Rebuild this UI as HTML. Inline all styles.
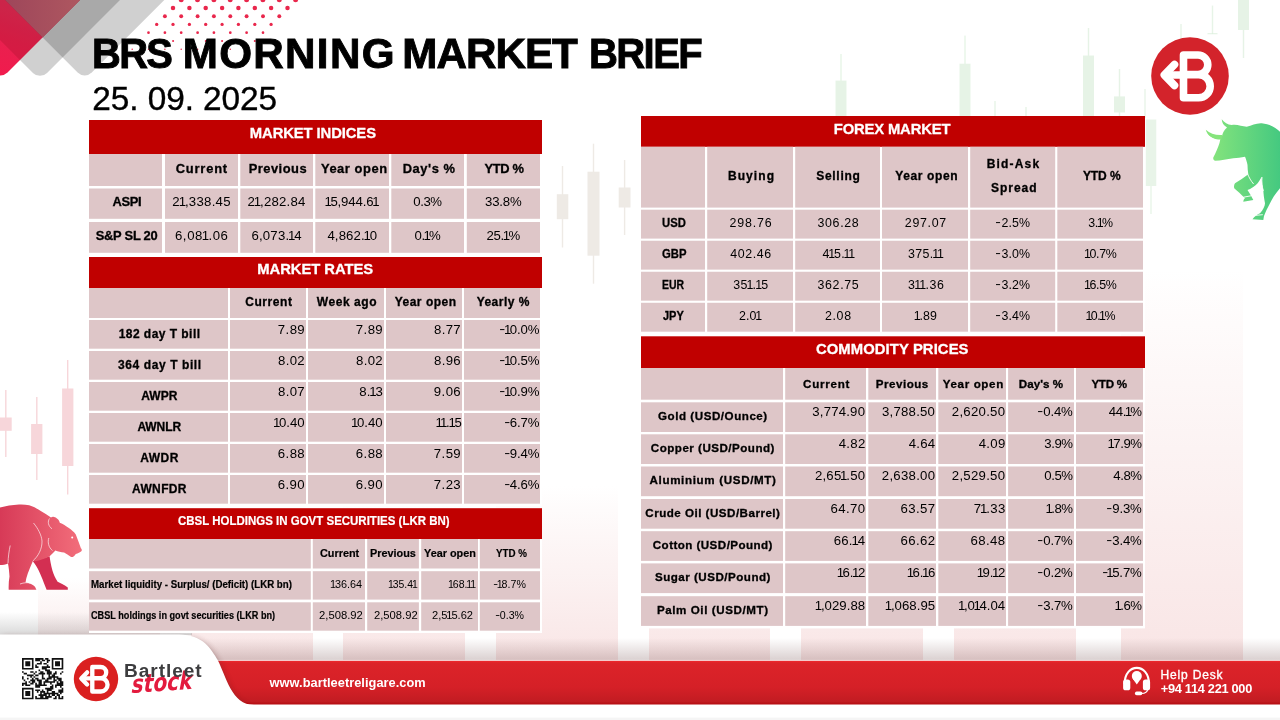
<!DOCTYPE html>
<html lang="en"><head><meta charset="utf-8"><title>BRS Morning Market Brief</title>
<style>
html,body{margin:0;padding:0;background:#fff}
body{width:1280px;height:720px;position:relative;overflow:hidden;font-family:"Liberation Sans","DejaVu Sans",sans-serif}
svg.layer{position:absolute;left:0;top:0;width:1280px;height:720px}
.o{margin:0 -0.1em}
.h{display:inline-block;transform:translateY(-.07em) scaleX(1.35);margin:0 .06em}
.t{position:absolute;white-space:nowrap;line-height:1;margin:0;padding:0;transform-origin:0 50%}
.f0{font-size:14.8px;font-weight:700;color:#fff;-webkit-text-stroke:0.3px #fff}
.f1{font-size:12.9px;font-weight:700;color:#000;-webkit-text-stroke:0.3px #000}
.f2{font-size:13.2px;font-weight:400;color:#000}
.f3{font-size:12px;font-weight:700;color:#000;-webkit-text-stroke:0.3px #000}
.f4{font-size:13.4px;font-weight:700;color:#fff;-webkit-text-stroke:0.2px #fff}
.f5{font-size:11.6px;font-weight:700;color:#000;-webkit-text-stroke:0.2px #000}
.f6{font-size:11.3px;font-weight:700;color:#000;-webkit-text-stroke:0.2px #000}
.f7{font-size:11.6px;font-weight:400;color:#000}
.f8{font-size:12.4px;font-weight:400;color:#000}
.f9{font-size:11.6px;font-weight:700;color:#000;-webkit-text-stroke:0.3px #000}
.f10{font-size:42.2px;font-weight:700;color:#000;-webkit-text-stroke:0.9px #000}
.f11{font-size:33.4px;font-weight:400;color:#000;-webkit-text-stroke:0.35px #000}
.f12{font-size:12.8px;font-weight:700;color:#fff}
.f13{font-size:12.0px;font-weight:400;color:#fff;-webkit-text-stroke:0.35px #fff}
.f14{font-size:17.5px;font-weight:700;color:#3d3d3f}
</style></head><body>
<svg class="layer" viewBox="0 0 1280 720" width="1280" height="720">
<defs>
<linearGradient id="gBar" x1="0" y1="0" x2="0" y2="1"><stop offset="0" stop-color="#F4D5D5" stop-opacity="0"/><stop offset="0.55" stop-color="#F6DADA" stop-opacity="0.38"/><stop offset="1" stop-color="#F6DADA" stop-opacity="0.7"/></linearGradient>
<linearGradient id="gRedD" gradientUnits="userSpaceOnUse" x1="0" y1="80" x2="30" y2="0"><stop offset="0" stop-color="#F21A4D"/><stop offset="0.5" stop-color="#E8214F"/><stop offset="1" stop-color="#DC3058"/></linearGradient>
<linearGradient id="gRedC" gradientUnits="userSpaceOnUse" x1="5" y1="0" x2="80" y2="0"><stop offset="0" stop-color="#9E465A"/><stop offset="1" stop-color="#AE5760"/></linearGradient>
<linearGradient id="gBull" x1="0" y1="0" x2="1" y2="0"><stop offset="0" stop-color="#8AE67C"/><stop offset="1" stop-color="#45C980"/></linearGradient>
<linearGradient id="gBear" x1="0" y1="0" x2="1" y2="0"><stop offset="0" stop-color="#D73A57"/><stop offset="1" stop-color="#F26E7B"/></linearGradient>
<linearGradient id="gBand" x1="0" y1="0" x2="0" y2="1"><stop offset="0" stop-color="#F0292D"/><stop offset="0.05" stop-color="#DC2329"/><stop offset="0.6" stop-color="#D52027"/><stop offset="0.93" stop-color="#C21C22"/><stop offset="1" stop-color="#B30C10"/></linearGradient>
<linearGradient id="gShadow" x1="0" y1="0" x2="0" y2="1"><stop offset="0" stop-color="#8a6a6a" stop-opacity="0"/><stop offset="1" stop-color="#8a6a6a" stop-opacity="0.32"/></linearGradient>
<linearGradient id="gShadowL" x1="0" y1="0" x2="0" y2="1"><stop offset="0" stop-color="#777" stop-opacity="0"/><stop offset="1" stop-color="#777" stop-opacity="0.28"/></linearGradient>
<filter id="blur3" x="-20%" y="-20%" width="140%" height="140%"><feGaussianBlur stdDeviation="3"/></filter>
<clipPath id="clipFoot"><rect x="-5" y="600" width="1290" height="102"/></clipPath>
<clipPath id="clipTL"><rect x="0" y="0" width="200" height="100"/></clipPath>
</defs>
<rect x="38" y="578" width="122" height="82" fill="url(#gBar)"/>
<rect x="191" y="520" width="122" height="140" fill="url(#gBar)"/>
<rect x="343" y="500" width="122" height="160" fill="url(#gBar)"/>
<rect x="496" y="486" width="122" height="174" fill="url(#gBar)"/>
<rect x="649" y="480" width="121" height="180" fill="url(#gBar)"/>
<rect x="801" y="460" width="122" height="200" fill="url(#gBar)"/>
<rect x="954" y="430" width="122" height="230" fill="url(#gBar)"/>
<rect x="1121" y="270" width="122" height="390" fill="url(#gBar)"/>
<g fill="#D3EBD3" opacity="0.55"><rect x="840.3" y="54" width="1.4" height="96"/><rect x="835.5" y="80.6" width="11" height="69.4"/></g>
<g fill="#D3EBD3" opacity="0.55"><rect x="964.3" y="35.6" width="1.4" height="114.4"/><rect x="959.5" y="63.7" width="11" height="86.3"/></g>
<g fill="#D3EBD3" opacity="0.55"><rect x="1087.8" y="28" width="1.4" height="122"/><rect x="1083.0" y="55.5" width="11" height="94.5"/></g>
<g fill="#D3EBD3" opacity="0.55"><rect x="1118.8" y="69" width="1.4" height="49"/><rect x="1114.0" y="96.4" width="11" height="16.099999999999994"/></g>
<g fill="#D3EBD3" opacity="0.55"><rect x="994.3" y="101" width="1.4" height="17"/><rect x="995.0" y="0" width="0" height="0"/></g>
<g fill="#D3EBD3" opacity="0.55"><rect x="1025.3" y="107" width="1.4" height="11"/><rect x="1026.0" y="0" width="0" height="0"/></g>
<g fill="#D3EBD3" opacity="0.55"><rect x="1242.8" y="0" width="1.4" height="58"/><rect x="1238.0" y="0" width="11" height="30"/></g>
<g fill="#D3EBD3" opacity="0.55"><rect x="1211.8" y="5.6" width="1.4" height="28.1"/><rect x="1212.5" y="0" width="0" height="0"/></g>
<rect x="1207.5" y="33" width="10" height="1.3" fill="#D3EBD3" opacity="0.55"/>
<g fill="#D3EBD3" opacity="0.55"><rect x="1180.3" y="24" width="1.4" height="16"/><rect x="1181.0" y="0" width="0" height="0"/></g>
<g fill="#D3EBD3" opacity="0.5"><rect x="1150.3" y="186" width="1.4" height="28"/><rect x="1145.8" y="119.5" width="10.5" height="66.5"/></g>
<g fill="#D3EBD3" opacity="0.5"><rect x="1144.3" y="89" width="1.4" height="29"/><rect x="1145.0" y="0" width="0" height="0"/></g>
<g fill="#EEEAE5" opacity="1"><rect x="561.8" y="166" width="1.4" height="81.5"/><rect x="556.8" y="194.2" width="11.5" height="25.0"/></g>
<g fill="#EEEAE5" opacity="1"><rect x="592.8" y="143.7" width="1.4" height="140.0"/><rect x="587.5" y="171.7" width="12" height="84.0"/></g>
<g fill="#EEEAE5" opacity="1"><rect x="623.9" y="160" width="1.4" height="75"/><rect x="618.7" y="187.5" width="11.8" height="20.0"/></g>
<g fill="#F7D6DA" opacity="1"><rect x="5.1" y="390" width="1.4" height="67"/><rect x="-0.1" y="417.5" width="11.8" height="13.300000000000011"/></g>
<g fill="#F7D6DA" opacity="1"><rect x="36.1" y="397" width="1.4" height="83"/><rect x="31.1" y="424" width="11.3" height="30"/></g>
<g fill="#F7D6DA" opacity="1"><rect x="67.0" y="360" width="1.4" height="134.5"/><rect x="62.1" y="388.5" width="11.3" height="77.5"/></g>
<clipPath id="clipRed"><path d="M-199.6,-120.4 L-6.67,72.53 A10,10 0 0 0 7.47,72.53 L200.4,-120.4 Z"/></clipPath>
<g clip-path="url(#clipTL)">
<path d="M-160,-120 L32.93,72.93 A10,10 0 0 0 47.07,72.93 L240,-120 Z" fill="#000" fill-opacity="0.185"/>
<path d="M-199.6,-120.4 L-6.67,72.53 A10,10 0 0 0 7.47,72.53 L200.4,-120.4 Z" fill="url(#gRedD)"/>
<g clip-path="url(#clipRed)"><path d="M-160,-120 L32.93,72.93 A10,10 0 0 0 47.07,72.93 L240,-120 Z" fill="#500" fill-opacity="0.14"/></g>
<path d="M-115.3,-120.4 L77.63,72.53 A10,10 0 0 0 91.77,72.53 L284.7,-120.4 Z" fill="#000" fill-opacity="0.185"/>
<g clip-path="url(#clipRed)"><path d="M-115.3,-120.4 L77.63,72.53 A10,10 0 0 0 91.77,72.53 L284.7,-120.4 Z" fill="url(#gRedC)"/></g>
</g>
<g fill="#E9274C"><circle cx="181.2" cy="-0.3" r="2.55"/><circle cx="197.5" cy="-0.3" r="2.55"/><circle cx="213.9" cy="-0.3" r="2.55"/><circle cx="230.2" cy="-0.3" r="2.55"/><circle cx="246.6" cy="-0.3" r="2.55"/><circle cx="262.9" cy="-0.3" r="2.55"/><circle cx="279.3" cy="-0.3" r="2.55"/><circle cx="295.6" cy="-0.3" r="2.55"/><circle cx="173.0" cy="8.0" r="2.25"/><circle cx="189.4" cy="8.0" r="2.25"/><circle cx="205.7" cy="8.0" r="2.25"/><circle cx="222.1" cy="8.0" r="2.25"/><circle cx="238.4" cy="8.0" r="2.25"/><circle cx="254.8" cy="8.0" r="2.25"/><circle cx="271.1" cy="8.0" r="2.25"/><circle cx="287.5" cy="8.0" r="2.25"/><circle cx="164.9" cy="16.2" r="1.95"/><circle cx="181.2" cy="16.2" r="1.95"/><circle cx="197.6" cy="16.2" r="1.95"/><circle cx="213.9" cy="16.2" r="1.95"/><circle cx="230.3" cy="16.2" r="1.95"/><circle cx="246.6" cy="16.2" r="1.95"/><circle cx="263.0" cy="16.2" r="1.95"/><circle cx="279.3" cy="16.2" r="1.95"/><circle cx="156.7" cy="24.4" r="1.65"/><circle cx="173.0" cy="24.4" r="1.65"/><circle cx="189.4" cy="24.4" r="1.65"/><circle cx="205.7" cy="24.4" r="1.65"/><circle cx="222.1" cy="24.4" r="1.65"/><circle cx="238.4" cy="24.4" r="1.65"/><circle cx="254.8" cy="24.4" r="1.65"/><circle cx="271.1" cy="24.4" r="1.65"/><circle cx="148.5" cy="32.7" r="1.35"/><circle cx="164.9" cy="32.7" r="1.35"/><circle cx="181.2" cy="32.7" r="1.35"/><circle cx="197.6" cy="32.7" r="1.35"/><circle cx="213.9" cy="32.7" r="1.35"/><circle cx="230.3" cy="32.7" r="1.35"/><circle cx="246.6" cy="32.7" r="1.35"/><circle cx="263.0" cy="32.7" r="1.35"/><circle cx="140.3" cy="41.0" r="1.05"/><circle cx="156.7" cy="41.0" r="1.05"/><circle cx="173.1" cy="41.0" r="1.05"/><circle cx="189.4" cy="41.0" r="1.05"/><circle cx="205.8" cy="41.0" r="1.05"/><circle cx="222.1" cy="41.0" r="1.05"/><circle cx="238.4" cy="41.0" r="1.05"/><circle cx="254.8" cy="41.0" r="1.05"/><circle cx="132.2" cy="49.2" r="0.75"/><circle cx="148.5" cy="49.2" r="0.75"/><circle cx="164.9" cy="49.2" r="0.75"/><circle cx="181.2" cy="49.2" r="0.75"/><circle cx="197.6" cy="49.2" r="0.75"/><circle cx="213.9" cy="49.2" r="0.75"/><circle cx="230.3" cy="49.2" r="0.75"/><circle cx="246.6" cy="49.2" r="0.75"/></g>
<circle cx="1190" cy="76" r="38.8" fill="#D3232B"/>
<g fill="none" stroke="#fff" stroke-width="7.60" stroke-linejoin="round" stroke-linecap="round"><path d="M1183.5,97.8 V55.0 H1198.0 A9.8,9.8 0 0 1 1198.0,74.6 H1186.0 M1198.0,74.6 H1198.6 A11.6,11.6 0 0 1 1198.6,97.8 H1183.5"/><path d="M1166.0,75.0 H1183.5"/><path d="M1174.5,64.5 L1164.3,75.0 L1174.5,85.5"/></g>
<path fill="url(#gBull)" d="M1205.8,129.7 C1208,135 1212,137.5 1218,137.8 L1222,136.5 C1222.5,133 1224,130 1227,127.5 C1223.5,125.5 1222,122.5 1221.7,119.2 C1224.5,122.5 1227.5,124.8 1231.7,125 C1237,124 1242,126.5 1246.7,126.7 C1252,125.5 1256,123 1261.7,123.3 C1269,124 1275,127 1280,131.7 L1280,188.3 C1275,194 1272,199 1270,203.3 C1267.5,208 1265.5,212 1264,216 L1263.3,220 L1252.5,219.2 C1254.5,216.5 1257,214.5 1260,213.3 C1263,210 1265,206 1265,203.3 C1264,198 1263.5,194 1263.3,190 C1262,185 1261.7,181 1261.7,176.7 C1259,182 1256.5,185 1253.3,187 C1251,188.5 1249,189.5 1247.5,190 C1249.5,193 1251.5,196.5 1253.3,200 L1243.3,201.7 C1243.5,200 1244,199 1245,198.3 C1241,194.5 1237.5,191 1234.2,188.3 C1233.8,186.5 1234,184.8 1235,183.3 C1239.5,180.5 1244,177.5 1248.3,174.2 C1247.8,171 1247.5,168 1247.5,165 C1247,162 1246,159 1245,156.7 C1241,157.5 1237,158 1233.3,158.3 C1227,159.5 1221,160.5 1215,160.8 C1213.5,160 1213,158.8 1213.3,157.5 C1216,152.5 1218,147.5 1219.5,143 C1220,141 1220.3,139.5 1220.5,138.3 C1213.5,139.5 1208,136 1205.8,129.7 Z"/>
<path fill="#86E47C" d="M1205.8,129.7 C1207.5,135.5 1212.5,139.6 1221.3,139.6 L1222.6,135 C1216,135.6 1210,133.6 1205.8,129.7 Z"/>
<g fill="none" stroke="#fff" stroke-width="0.9"><path d="M1262,177 C1261.5,182 1262.3,187 1263.3,191"/><path d="M1247.3,173.2 C1249,177.5 1251,181 1253.6,184"/><path d="M1243.5,197.2 L1251,195.8"/><path d="M1255.8,215.3 L1262.8,214.7"/></g>
<path fill="#D32F52" d="M32.8,561.3 C37,566 41,575 43.7,582.5 L46.6,589.8 L67.8,589.8 C67.8,588.5 67.8,588 67.8,587.6 C64,584.5 60,583 57.6,581.7 C55,578 53.5,574 52.5,570.8 C51,565 50,560 49.6,556.2 Z"/>
<path fill="url(#gBear)" d="M0,507.4 C6,506 12,505 19,504.5 C22.5,504.3 26,504.6 29.2,505.2 C33.5,506.5 37.5,508.7 40.8,511 C44.5,513.3 48,515.5 51,517.6 C52,516.6 53,516.5 54,516.9 C55.5,517.2 56.8,518 57.6,519 C58.8,520 59.5,521.3 59.8,522.7 C63,524 66,525.8 68.5,527.8 C71.5,529.8 74,532 75.8,534.4 C77.5,539 79.5,544 80.9,548.2 C81.8,549 82,550 81.6,551.1 C80,552.5 78,553.5 75.8,554 C75,555.3 74,556.3 72.9,557 C71.8,557.2 70.8,556.9 70,556.2 C68,555 66,553.8 64.1,552.6 C61,552.2 58,551.5 55.4,550.4 C53.5,552.5 51.5,554.5 49.6,556.2 C45,558.5 40,560.3 35,561.3 L32.8,561.3 C31,565.5 29.2,569.5 27.7,573.7 C26.6,576.8 25.9,579.8 25.5,582.5 C29.5,583 33,584.5 35,586.8 L36.4,589.8 L8.7,589.8 C8.5,585 8.8,580.5 9.5,576.6 C9.3,572 8.7,567.5 8,563.5 C5.5,564.5 2.8,565 0,565 Z"/>
<g fill="none" stroke="#fff" stroke-width="0.7" opacity="0.9"><path d="M33.5,523 C38,528.5 41.5,535 42,541 C42.3,549 38,556.5 32.8,561"/><path d="M49.5,518.5 C47.5,521.5 48,526 52,528.8"/><path d="M48.8,538 C47.5,542 48.5,547.5 52.5,550.5"/><path d="M10.2,545.5 C9,551 8.2,557 8,563.3"/><path d="M20,584 C24,582.5 28,582.4 30.5,583.2"/></g>
<circle cx="72.2" cy="537.5" r="1" fill="#fff"/>
<rect x="0" y="612" width="192" height="23" fill="url(#gShadowL)"/>
<rect x="180" y="638" width="1100" height="22.5" fill="url(#gShadow)"/>
<rect x="200" y="659.8" width="1080" height="1.2" fill="#fff" opacity="0.45"/>
<rect x="212" y="660.8" width="1068" height="43.7" fill="url(#gBand)"/>
<path d="M0,636 H178 C203,636 210,650 216,661 C224,677 230,705 250,706 H0 Z" fill="#5a2020" opacity="0.45" filter="url(#blur3)" transform="translate(2.5,1.5)" clip-path="url(#clipFoot)"/>
<path d="M0,634.6 H179 C203,634.6 211,649 217.8,660.3 C226,676 231.5,705 254,705 H0 Z" fill="#fff"/>
<rect x="0" y="703.8" width="240" height="16.2" fill="#fff"/>
<rect x="0" y="717.6" width="1280" height="2.4" fill="#000" opacity="0.04"/>
<path d="M22.00,658.00h11.56v1.65h-11.56zM35.22,658.00h8.26v1.65h-8.26zM45.13,658.00h3.30v1.65h-3.30zM51.74,658.00h11.56v1.65h-11.56zM22.00,659.65h1.65v1.65h-1.65zM31.91,659.65h1.65v1.65h-1.65zM35.22,659.65h4.96v1.65h-4.96zM41.82,659.65h3.30v1.65h-3.30zM46.78,659.65h3.30v1.65h-3.30zM51.74,659.65h1.65v1.65h-1.65zM61.65,659.65h1.65v1.65h-1.65zM22.00,661.30h1.65v1.65h-1.65zM25.30,661.30h4.96v1.65h-4.96zM31.91,661.30h1.65v1.65h-1.65zM40.17,661.30h1.65v1.65h-1.65zM46.78,661.30h1.65v1.65h-1.65zM51.74,661.30h1.65v1.65h-1.65zM55.04,661.30h4.96v1.65h-4.96zM61.65,661.30h1.65v1.65h-1.65zM22.00,662.96h1.65v1.65h-1.65zM25.30,662.96h4.96v1.65h-4.96zM31.91,662.96h1.65v1.65h-1.65zM36.87,662.96h4.96v1.65h-4.96zM43.48,662.96h3.30v1.65h-3.30zM51.74,662.96h1.65v1.65h-1.65zM55.04,662.96h4.96v1.65h-4.96zM61.65,662.96h1.65v1.65h-1.65zM22.00,664.61h1.65v1.65h-1.65zM25.30,664.61h4.96v1.65h-4.96zM31.91,664.61h1.65v1.65h-1.65zM35.22,664.61h1.65v1.65h-1.65zM46.78,664.61h1.65v1.65h-1.65zM51.74,664.61h1.65v1.65h-1.65zM55.04,664.61h4.96v1.65h-4.96zM61.65,664.61h1.65v1.65h-1.65zM22.00,666.26h1.65v1.65h-1.65zM31.91,666.26h1.65v1.65h-1.65zM35.22,666.26h3.30v1.65h-3.30zM41.82,666.26h8.26v1.65h-8.26zM51.74,666.26h1.65v1.65h-1.65zM61.65,666.26h1.65v1.65h-1.65zM22.00,667.91h11.56v1.65h-11.56zM41.82,667.91h4.96v1.65h-4.96zM51.74,667.91h11.56v1.65h-11.56zM38.52,669.56h1.65v1.65h-1.65zM45.13,669.56h4.96v1.65h-4.96zM22.00,671.22h1.65v1.65h-1.65zM30.26,671.22h3.30v1.65h-3.30zM35.22,671.22h1.65v1.65h-1.65zM40.17,671.22h3.30v1.65h-3.30zM46.78,671.22h4.96v1.65h-4.96zM55.04,671.22h1.65v1.65h-1.65zM61.65,671.22h1.65v1.65h-1.65zM23.65,672.87h3.30v1.65h-3.30zM33.56,672.87h1.65v1.65h-1.65zM38.52,672.87h6.61v1.65h-6.61zM46.78,672.87h4.96v1.65h-4.96zM53.39,672.87h3.30v1.65h-3.30zM60.00,672.87h1.65v1.65h-1.65zM26.96,674.52h6.61v1.65h-6.61zM35.22,674.52h3.30v1.65h-3.30zM41.82,674.52h1.65v1.65h-1.65zM48.43,674.52h1.65v1.65h-1.65zM51.74,674.52h3.30v1.65h-3.30zM22.00,676.17h1.65v1.65h-1.65zM30.26,676.17h1.65v1.65h-1.65zM33.56,676.17h1.65v1.65h-1.65zM41.82,676.17h1.65v1.65h-1.65zM48.43,676.17h9.91v1.65h-9.91zM22.00,677.82h1.65v1.65h-1.65zM26.96,677.82h1.65v1.65h-1.65zM31.91,677.82h1.65v1.65h-1.65zM35.22,677.82h3.30v1.65h-3.30zM41.82,677.82h3.30v1.65h-3.30zM46.78,677.82h4.96v1.65h-4.96zM53.39,677.82h1.65v1.65h-1.65zM56.69,677.82h4.96v1.65h-4.96zM23.65,679.48h1.65v1.65h-1.65zM30.26,679.48h4.96v1.65h-4.96zM36.87,679.48h4.96v1.65h-4.96zM45.13,679.48h3.30v1.65h-3.30zM53.39,679.48h3.30v1.65h-3.30zM58.34,679.48h3.30v1.65h-3.30zM25.30,681.13h1.65v1.65h-1.65zM28.61,681.13h1.65v1.65h-1.65zM31.91,681.13h3.30v1.65h-3.30zM38.52,681.13h3.30v1.65h-3.30zM43.48,681.13h11.56v1.65h-11.56zM56.69,681.13h1.65v1.65h-1.65zM60.00,681.13h3.30v1.65h-3.30zM22.00,682.78h4.96v1.65h-4.96zM30.26,682.78h3.30v1.65h-3.30zM35.22,682.78h1.65v1.65h-1.65zM38.52,682.78h3.30v1.65h-3.30zM43.48,682.78h1.65v1.65h-1.65zM50.08,682.78h1.65v1.65h-1.65zM56.69,682.78h6.61v1.65h-6.61zM22.00,684.43h1.65v1.65h-1.65zM25.30,684.43h4.96v1.65h-4.96zM35.22,684.43h11.56v1.65h-11.56zM51.74,684.43h1.65v1.65h-1.65zM55.04,684.43h8.26v1.65h-8.26zM35.22,686.08h4.96v1.65h-4.96zM50.08,686.08h3.30v1.65h-3.30zM55.04,686.08h1.65v1.65h-1.65zM60.00,686.08h1.65v1.65h-1.65zM22.00,687.74h11.56v1.65h-11.56zM45.13,687.74h8.26v1.65h-8.26zM61.65,687.74h1.65v1.65h-1.65zM22.00,689.39h1.65v1.65h-1.65zM31.91,689.39h1.65v1.65h-1.65zM35.22,689.39h4.96v1.65h-4.96zM41.82,689.39h1.65v1.65h-1.65zM46.78,689.39h4.96v1.65h-4.96zM58.34,689.39h4.96v1.65h-4.96zM22.00,691.04h1.65v1.65h-1.65zM25.30,691.04h4.96v1.65h-4.96zM31.91,691.04h1.65v1.65h-1.65zM36.87,691.04h1.65v1.65h-1.65zM40.17,691.04h4.96v1.65h-4.96zM46.78,691.04h1.65v1.65h-1.65zM51.74,691.04h3.30v1.65h-3.30zM58.34,691.04h4.96v1.65h-4.96zM22.00,692.69h1.65v1.65h-1.65zM25.30,692.69h4.96v1.65h-4.96zM31.91,692.69h1.65v1.65h-1.65zM40.17,692.69h1.65v1.65h-1.65zM43.48,692.69h14.87v1.65h-14.87zM60.00,692.69h1.65v1.65h-1.65zM22.00,694.34h1.65v1.65h-1.65zM25.30,694.34h4.96v1.65h-4.96zM31.91,694.34h1.65v1.65h-1.65zM38.52,694.34h8.26v1.65h-8.26zM48.43,694.34h1.65v1.65h-1.65zM51.74,694.34h3.30v1.65h-3.30zM56.69,694.34h3.30v1.65h-3.30zM22.00,696.00h1.65v1.65h-1.65zM31.91,696.00h1.65v1.65h-1.65zM35.22,696.00h1.65v1.65h-1.65zM40.17,696.00h3.30v1.65h-3.30zM45.13,696.00h6.61v1.65h-6.61zM55.04,696.00h1.65v1.65h-1.65zM58.34,696.00h1.65v1.65h-1.65zM61.65,696.00h1.65v1.65h-1.65zM22.00,697.65h11.56v1.65h-11.56zM35.22,697.65h13.22v1.65h-13.22zM53.39,697.65h3.30v1.65h-3.30zM58.34,697.65h4.96v1.65h-4.96z" fill="#111"/>
<circle cx="96" cy="679" r="22.2" fill="#DA2020"/>
<g fill="none" stroke="#fff" stroke-width="4.35" stroke-linejoin="round" stroke-linecap="round"><path d="M92.3,691.5 V667.0 H100.6 A5.6,5.6 0 0 1 100.6,678.2 H93.7 M100.6,678.2 H100.9 A6.6,6.6 0 0 1 100.9,691.5 H92.3"/><path d="M82.3,678.4 H92.3"/><path d="M87.1,672.4 L81.3,678.4 L87.1,684.4"/></g>
<g transform="translate(131.5,693) rotate(-4) skewX(-6)"><text x="0" y="0" font-family="'DejaVu Sans','Liberation Sans',sans-serif" font-weight="700" font-style="italic" font-size="25" fill="#E31B3E" textLength="61" lengthAdjust="spacingAndGlyphs">stock</text></g>
<g fill="#fff" stroke="none"><path d="M1124.6,684 C1124.6,662.5 1149,662.5 1149,684" fill="none" stroke="#fff" stroke-width="2.1"/><rect x="1123.1" y="679.4" width="7.2" height="10.9" rx="2.6"/><rect x="1142.9" y="679.4" width="7.2" height="10.9" rx="2.6"/><circle cx="1136.8" cy="676" r="5"/><path d="M1132.6,678.6 L1141,678.6 L1136.8,684.4 Z"/><path d="M1147.6,689.5 C1147.2,692.3 1145,693.4 1141.5,693.4" fill="none" stroke="#fff" stroke-width="1.3"/><rect x="1134.9" y="691.6" width="7.4" height="3.6" rx="1.8"/></g>
<g id="tables">
<rect x="89.00" y="120.00" width="453.00" height="135.00" fill="#fff"/>
<rect x="89.00" y="120.00" width="453.00" height="34.00" fill="#C00000"/>
<rect x="89.00" y="154.00" width="73.00" height="32.00" fill="#DEC6C8"/>
<rect x="165.00" y="154.00" width="73.00" height="32.00" fill="#DEC6C8"/>
<rect x="240.30" y="154.00" width="72.70" height="32.00" fill="#DEC6C8"/>
<rect x="315.30" y="154.00" width="73.70" height="32.00" fill="#DEC6C8"/>
<rect x="391.30" y="154.00" width="72.70" height="32.00" fill="#DEC6C8"/>
<rect x="466.80" y="154.00" width="73.20" height="32.00" fill="#DEC6C8"/>
<rect x="89.00" y="188.50" width="73.00" height="30.30" fill="#DEC6C8"/>
<rect x="165.00" y="188.50" width="73.00" height="30.30" fill="#DEC6C8"/>
<rect x="240.30" y="188.50" width="72.70" height="30.30" fill="#DEC6C8"/>
<rect x="315.30" y="188.50" width="73.70" height="30.30" fill="#DEC6C8"/>
<rect x="391.30" y="188.50" width="72.70" height="30.30" fill="#DEC6C8"/>
<rect x="466.80" y="188.50" width="73.20" height="30.30" fill="#DEC6C8"/>
<rect x="89.00" y="222.00" width="73.00" height="30.80" fill="#DEC6C8"/>
<rect x="165.00" y="222.00" width="73.00" height="30.80" fill="#DEC6C8"/>
<rect x="240.30" y="222.00" width="72.70" height="30.80" fill="#DEC6C8"/>
<rect x="315.30" y="222.00" width="73.70" height="30.80" fill="#DEC6C8"/>
<rect x="391.30" y="222.00" width="72.70" height="30.80" fill="#DEC6C8"/>
<rect x="466.80" y="222.00" width="73.20" height="30.80" fill="#DEC6C8"/>
<rect x="89.00" y="257.00" width="453.00" height="249.00" fill="#fff"/>
<rect x="89.00" y="257.00" width="453.00" height="31.00" fill="#C00000"/>
<rect x="89.00" y="288.00" width="139.00" height="30.00" fill="#DEC6C8"/>
<rect x="230.00" y="288.00" width="76.00" height="30.00" fill="#DEC6C8"/>
<rect x="308.00" y="288.00" width="76.00" height="30.00" fill="#DEC6C8"/>
<rect x="386.00" y="288.00" width="76.00" height="30.00" fill="#DEC6C8"/>
<rect x="464.00" y="288.00" width="76.00" height="30.00" fill="#DEC6C8"/>
<rect x="89.00" y="320.00" width="139.00" height="28.70" fill="#DEC6C8"/>
<rect x="230.00" y="320.00" width="76.00" height="28.70" fill="#DEC6C8"/>
<rect x="308.00" y="320.00" width="76.00" height="28.70" fill="#DEC6C8"/>
<rect x="386.00" y="320.00" width="76.00" height="28.70" fill="#DEC6C8"/>
<rect x="464.00" y="320.00" width="76.00" height="28.70" fill="#DEC6C8"/>
<rect x="89.00" y="351.00" width="139.00" height="28.70" fill="#DEC6C8"/>
<rect x="230.00" y="351.00" width="76.00" height="28.70" fill="#DEC6C8"/>
<rect x="308.00" y="351.00" width="76.00" height="28.70" fill="#DEC6C8"/>
<rect x="386.00" y="351.00" width="76.00" height="28.70" fill="#DEC6C8"/>
<rect x="464.00" y="351.00" width="76.00" height="28.70" fill="#DEC6C8"/>
<rect x="89.00" y="382.00" width="139.00" height="28.70" fill="#DEC6C8"/>
<rect x="230.00" y="382.00" width="76.00" height="28.70" fill="#DEC6C8"/>
<rect x="308.00" y="382.00" width="76.00" height="28.70" fill="#DEC6C8"/>
<rect x="386.00" y="382.00" width="76.00" height="28.70" fill="#DEC6C8"/>
<rect x="464.00" y="382.00" width="76.00" height="28.70" fill="#DEC6C8"/>
<rect x="89.00" y="413.00" width="139.00" height="28.70" fill="#DEC6C8"/>
<rect x="230.00" y="413.00" width="76.00" height="28.70" fill="#DEC6C8"/>
<rect x="308.00" y="413.00" width="76.00" height="28.70" fill="#DEC6C8"/>
<rect x="386.00" y="413.00" width="76.00" height="28.70" fill="#DEC6C8"/>
<rect x="464.00" y="413.00" width="76.00" height="28.70" fill="#DEC6C8"/>
<rect x="89.00" y="444.00" width="139.00" height="28.70" fill="#DEC6C8"/>
<rect x="230.00" y="444.00" width="76.00" height="28.70" fill="#DEC6C8"/>
<rect x="308.00" y="444.00" width="76.00" height="28.70" fill="#DEC6C8"/>
<rect x="386.00" y="444.00" width="76.00" height="28.70" fill="#DEC6C8"/>
<rect x="464.00" y="444.00" width="76.00" height="28.70" fill="#DEC6C8"/>
<rect x="89.00" y="475.00" width="139.00" height="28.70" fill="#DEC6C8"/>
<rect x="230.00" y="475.00" width="76.00" height="28.70" fill="#DEC6C8"/>
<rect x="308.00" y="475.00" width="76.00" height="28.70" fill="#DEC6C8"/>
<rect x="386.00" y="475.00" width="76.00" height="28.70" fill="#DEC6C8"/>
<rect x="464.00" y="475.00" width="76.00" height="28.70" fill="#DEC6C8"/>
<rect x="89.00" y="508.20" width="453.00" height="124.80" fill="#fff"/>
<rect x="89.00" y="508.20" width="453.00" height="30.80" fill="#C00000"/>
<rect x="89.00" y="539.00" width="221.80" height="29.50" fill="#DEC6C8"/>
<rect x="312.80" y="539.00" width="52.20" height="29.50" fill="#DEC6C8"/>
<rect x="367.20" y="539.00" width="51.70" height="29.50" fill="#DEC6C8"/>
<rect x="421.20" y="539.00" width="56.80" height="29.50" fill="#DEC6C8"/>
<rect x="479.80" y="539.00" width="60.20" height="29.50" fill="#DEC6C8"/>
<rect x="89.00" y="571.20" width="221.80" height="28.40" fill="#DEC6C8"/>
<rect x="312.80" y="571.20" width="52.20" height="28.40" fill="#DEC6C8"/>
<rect x="367.20" y="571.20" width="51.70" height="28.40" fill="#DEC6C8"/>
<rect x="421.20" y="571.20" width="56.80" height="28.40" fill="#DEC6C8"/>
<rect x="479.80" y="571.20" width="60.20" height="28.40" fill="#DEC6C8"/>
<rect x="89.00" y="602.30" width="221.80" height="28.40" fill="#DEC6C8"/>
<rect x="312.80" y="602.30" width="52.20" height="28.40" fill="#DEC6C8"/>
<rect x="367.20" y="602.30" width="51.70" height="28.40" fill="#DEC6C8"/>
<rect x="421.20" y="602.30" width="56.80" height="28.40" fill="#DEC6C8"/>
<rect x="479.80" y="602.30" width="60.20" height="28.40" fill="#DEC6C8"/>
<rect x="641.00" y="116.00" width="504.00" height="218.20" fill="#fff"/>
<rect x="641.00" y="116.00" width="504.00" height="30.80" fill="#C00000"/>
<rect x="641.00" y="146.80" width="64.00" height="60.80" fill="#DEC6C8"/>
<rect x="707.20" y="146.80" width="85.80" height="60.80" fill="#DEC6C8"/>
<rect x="795.20" y="146.80" width="84.80" height="60.80" fill="#DEC6C8"/>
<rect x="882.00" y="146.80" width="86.00" height="60.80" fill="#DEC6C8"/>
<rect x="970.20" y="146.80" width="85.00" height="60.80" fill="#DEC6C8"/>
<rect x="1057.30" y="146.80" width="85.70" height="60.80" fill="#DEC6C8"/>
<rect x="641.00" y="209.70" width="64.00" height="28.90" fill="#DEC6C8"/>
<rect x="707.20" y="209.70" width="85.80" height="28.90" fill="#DEC6C8"/>
<rect x="795.20" y="209.70" width="84.80" height="28.90" fill="#DEC6C8"/>
<rect x="882.00" y="209.70" width="86.00" height="28.90" fill="#DEC6C8"/>
<rect x="970.20" y="209.70" width="85.00" height="28.90" fill="#DEC6C8"/>
<rect x="1057.30" y="209.70" width="85.70" height="28.90" fill="#DEC6C8"/>
<rect x="641.00" y="240.73" width="64.00" height="28.90" fill="#DEC6C8"/>
<rect x="707.20" y="240.73" width="85.80" height="28.90" fill="#DEC6C8"/>
<rect x="795.20" y="240.73" width="84.80" height="28.90" fill="#DEC6C8"/>
<rect x="882.00" y="240.73" width="86.00" height="28.90" fill="#DEC6C8"/>
<rect x="970.20" y="240.73" width="85.00" height="28.90" fill="#DEC6C8"/>
<rect x="1057.30" y="240.73" width="85.70" height="28.90" fill="#DEC6C8"/>
<rect x="641.00" y="271.76" width="64.00" height="28.90" fill="#DEC6C8"/>
<rect x="707.20" y="271.76" width="85.80" height="28.90" fill="#DEC6C8"/>
<rect x="795.20" y="271.76" width="84.80" height="28.90" fill="#DEC6C8"/>
<rect x="882.00" y="271.76" width="86.00" height="28.90" fill="#DEC6C8"/>
<rect x="970.20" y="271.76" width="85.00" height="28.90" fill="#DEC6C8"/>
<rect x="1057.30" y="271.76" width="85.70" height="28.90" fill="#DEC6C8"/>
<rect x="641.00" y="302.79" width="64.00" height="28.90" fill="#DEC6C8"/>
<rect x="707.20" y="302.79" width="85.80" height="28.90" fill="#DEC6C8"/>
<rect x="795.20" y="302.79" width="84.80" height="28.90" fill="#DEC6C8"/>
<rect x="882.00" y="302.79" width="86.00" height="28.90" fill="#DEC6C8"/>
<rect x="970.20" y="302.79" width="85.00" height="28.90" fill="#DEC6C8"/>
<rect x="1057.30" y="302.79" width="85.70" height="28.90" fill="#DEC6C8"/>
<rect x="641.00" y="336.30" width="504.00" height="292.10" fill="#fff"/>
<rect x="641.00" y="336.30" width="504.00" height="31.70" fill="#C00000"/>
<rect x="641.00" y="368.00" width="142.00" height="31.70" fill="#DEC6C8"/>
<rect x="785.20" y="368.00" width="80.80" height="31.70" fill="#DEC6C8"/>
<rect x="868.30" y="368.00" width="67.70" height="31.70" fill="#DEC6C8"/>
<rect x="938.30" y="368.00" width="67.70" height="31.70" fill="#DEC6C8"/>
<rect x="1008.10" y="368.00" width="65.90" height="31.70" fill="#DEC6C8"/>
<rect x="1076.00" y="368.00" width="67.00" height="31.70" fill="#DEC6C8"/>
<rect x="641.00" y="402.30" width="142.00" height="29.70" fill="#DEC6C8"/>
<rect x="785.20" y="402.30" width="80.80" height="29.70" fill="#DEC6C8"/>
<rect x="868.30" y="402.30" width="67.70" height="29.70" fill="#DEC6C8"/>
<rect x="938.30" y="402.30" width="67.70" height="29.70" fill="#DEC6C8"/>
<rect x="1008.10" y="402.30" width="65.90" height="29.70" fill="#DEC6C8"/>
<rect x="1076.00" y="402.30" width="67.00" height="29.70" fill="#DEC6C8"/>
<rect x="641.00" y="434.30" width="142.00" height="29.70" fill="#DEC6C8"/>
<rect x="785.20" y="434.30" width="80.80" height="29.70" fill="#DEC6C8"/>
<rect x="868.30" y="434.30" width="67.70" height="29.70" fill="#DEC6C8"/>
<rect x="938.30" y="434.30" width="67.70" height="29.70" fill="#DEC6C8"/>
<rect x="1008.10" y="434.30" width="65.90" height="29.70" fill="#DEC6C8"/>
<rect x="1076.00" y="434.30" width="67.00" height="29.70" fill="#DEC6C8"/>
<rect x="641.00" y="466.50" width="142.00" height="29.70" fill="#DEC6C8"/>
<rect x="785.20" y="466.50" width="80.80" height="29.70" fill="#DEC6C8"/>
<rect x="868.30" y="466.50" width="67.70" height="29.70" fill="#DEC6C8"/>
<rect x="938.30" y="466.50" width="67.70" height="29.70" fill="#DEC6C8"/>
<rect x="1008.10" y="466.50" width="65.90" height="29.70" fill="#DEC6C8"/>
<rect x="1076.00" y="466.50" width="67.00" height="29.70" fill="#DEC6C8"/>
<rect x="641.00" y="499.00" width="142.00" height="29.70" fill="#DEC6C8"/>
<rect x="785.20" y="499.00" width="80.80" height="29.70" fill="#DEC6C8"/>
<rect x="868.30" y="499.00" width="67.70" height="29.70" fill="#DEC6C8"/>
<rect x="938.30" y="499.00" width="67.70" height="29.70" fill="#DEC6C8"/>
<rect x="1008.10" y="499.00" width="65.90" height="29.70" fill="#DEC6C8"/>
<rect x="1076.00" y="499.00" width="67.00" height="29.70" fill="#DEC6C8"/>
<rect x="641.00" y="531.20" width="142.00" height="29.70" fill="#DEC6C8"/>
<rect x="785.20" y="531.20" width="80.80" height="29.70" fill="#DEC6C8"/>
<rect x="868.30" y="531.20" width="67.70" height="29.70" fill="#DEC6C8"/>
<rect x="938.30" y="531.20" width="67.70" height="29.70" fill="#DEC6C8"/>
<rect x="1008.10" y="531.20" width="65.90" height="29.70" fill="#DEC6C8"/>
<rect x="1076.00" y="531.20" width="67.00" height="29.70" fill="#DEC6C8"/>
<rect x="641.00" y="563.40" width="142.00" height="29.70" fill="#DEC6C8"/>
<rect x="785.20" y="563.40" width="80.80" height="29.70" fill="#DEC6C8"/>
<rect x="868.30" y="563.40" width="67.70" height="29.70" fill="#DEC6C8"/>
<rect x="938.30" y="563.40" width="67.70" height="29.70" fill="#DEC6C8"/>
<rect x="1008.10" y="563.40" width="65.90" height="29.70" fill="#DEC6C8"/>
<rect x="1076.00" y="563.40" width="67.00" height="29.70" fill="#DEC6C8"/>
<rect x="641.00" y="596.20" width="142.00" height="29.70" fill="#DEC6C8"/>
<rect x="785.20" y="596.20" width="80.80" height="29.70" fill="#DEC6C8"/>
<rect x="868.30" y="596.20" width="67.70" height="29.70" fill="#DEC6C8"/>
<rect x="938.30" y="596.20" width="67.70" height="29.70" fill="#DEC6C8"/>
<rect x="1008.10" y="596.20" width="65.90" height="29.70" fill="#DEC6C8"/>
<rect x="1076.00" y="596.20" width="67.00" height="29.70" fill="#DEC6C8"/>
</g>

</svg>
<div class="t f0" style="left:249.82px;top:125.57px;letter-spacing:-0.095px">MARKET INDICES</div>
<div class="t f1" style="left:175.72px;top:163.28px;letter-spacing:0.805px">Current</div>
<div class="t f1" style="left:248.64px;top:163.28px;letter-spacing:0.505px">Previous</div>
<div class="t f1" style="left:320.95px;top:163.28px;letter-spacing:0.558px">Year open</div>
<div class="t f1" style="left:402.74px;top:163.28px;letter-spacing:0.555px">Day's %</div>
<div class="t f1" style="left:484.55px;top:163.28px;letter-spacing:-0.342px">YTD %</div>
<div class="t f1" style="left:112.45px;top:195.58px;letter-spacing:-0.282px">ASPI</div>
<div class="t f2" style="left:172.33px;top:195.33px;letter-spacing:0.271px">2<span class="o">1</span>,338.45</div>
<div class="t f2" style="left:247.57px;top:195.33px;letter-spacing:0.223px">2<span class="o">1</span>,282.84</div>
<div class="t f2" style="left:325.79px;top:195.33px;letter-spacing:-0.125px"><span class="o">1</span>5,944.6<span class="o">1</span></div>
<div class="t f2" style="left:413.19px;top:195.33px;letter-spacing:-0.396px">0.3%</div>
<div class="t f2" style="left:485.06px;top:195.33px;letter-spacing:-0.191px">33.8%</div>
<div class="t f1" style="left:95.70px;top:229.58px;letter-spacing:-0.250px">S&amp;P SL 20</div>
<div class="t f2" style="left:174.93px;top:229.33px;letter-spacing:0.616px">6,08<span class="o">1</span>.06</div>
<div class="t f2" style="left:251.50px;top:229.33px;letter-spacing:0.180px">6,073.<span class="o">1</span>4</div>
<div class="t f2" style="left:327.42px;top:229.33px;letter-spacing:0.121px">4,862.<span class="o">1</span>0</div>
<div class="t f2" style="left:414.51px;top:229.33px;letter-spacing:-0.396px">0.<span class="o">1</span>%</div>
<div class="t f2" style="left:486.45px;top:229.33px;letter-spacing:-0.279px">25.<span class="o">1</span>%</div>
<div class="t f0" style="left:257.27px;top:262.27px;letter-spacing:-0.050px">MARKET RATES</div>
<div class="t f3" style="left:245.20px;top:296.04px;letter-spacing:0.577px">Current</div>
<div class="t f3" style="left:316.75px;top:296.04px;letter-spacing:0.576px">Week ago</div>
<div class="t f3" style="left:394.65px;top:296.04px;letter-spacing:0.509px">Year open</div>
<div class="t f3" style="left:476.65px;top:296.04px;letter-spacing:0.471px">Yearly %</div>
<div class="t f3" style="left:118.65px;top:327.54px;letter-spacing:0.463px">182 day T bill</div>
<div class="t f2" style="left:277.85px;top:323.23px;letter-spacing:0.397px">7.89</div>
<div class="t f2" style="left:355.85px;top:323.23px;letter-spacing:0.397px">7.89</div>
<div class="t f2" style="left:434.06px;top:323.23px;letter-spacing:0.328px">8.77</div>
<div class="t f2" style="left:499.37px;top:323.23px;letter-spacing:-0.141px"><span class="h">-</span><span class="o">1</span>0.0%</div>
<div class="t f3" style="left:118.10px;top:358.54px;letter-spacing:0.586px">364 day T bill</div>
<div class="t f2" style="left:278.06px;top:354.23px;letter-spacing:0.328px">8.02</div>
<div class="t f2" style="left:356.06px;top:354.23px;letter-spacing:0.328px">8.02</div>
<div class="t f2" style="left:434.06px;top:354.23px;letter-spacing:0.328px">8.96</div>
<div class="t f2" style="left:499.37px;top:354.23px;letter-spacing:-0.141px"><span class="h">-</span><span class="o">1</span>0.5%</div>
<div class="t f3" style="left:141.20px;top:389.54px;letter-spacing:0.055px">AWPR</div>
<div class="t f2" style="left:278.06px;top:385.23px;letter-spacing:0.328px">8.07</div>
<div class="t f2" style="left:359.26px;top:385.23px;letter-spacing:0.141px">8.<span class="o">1</span>3</div>
<div class="t f2" style="left:433.85px;top:385.23px;letter-spacing:0.397px">9.06</div>
<div class="t f2" style="left:499.37px;top:385.23px;letter-spacing:-0.141px"><span class="h">-</span><span class="o">1</span>0.9%</div>
<div class="t f3" style="left:137.40px;top:420.54px;letter-spacing:-0.057px">AWNLR</div>
<div class="t f2" style="left:274.30px;top:416.23px;letter-spacing:-0.042px"><span class="o">1</span>0.40</div>
<div class="t f2" style="left:352.30px;top:416.23px;letter-spacing:-0.042px"><span class="o">1</span>0.40</div>
<div class="t f2" style="left:436.70px;top:416.23px;letter-spacing:-0.025px"><span class="o">1</span><span class="o">1</span>.<span class="o">1</span>5</div>
<div class="t f2" style="left:504.03px;top:416.23px;letter-spacing:-0.167px"><span class="h">-</span>6.7%</div>
<div class="t f3" style="left:140.25px;top:451.54px;letter-spacing:0.468px">AWDR</div>
<div class="t f2" style="left:277.85px;top:447.23px;letter-spacing:0.397px">6.88</div>
<div class="t f2" style="left:355.85px;top:447.23px;letter-spacing:0.397px">6.88</div>
<div class="t f2" style="left:433.85px;top:447.23px;letter-spacing:0.397px">7.59</div>
<div class="t f2" style="left:504.03px;top:447.23px;letter-spacing:-0.167px"><span class="h">-</span>9.4%</div>
<div class="t f3" style="left:132.05px;top:482.54px;letter-spacing:0.362px">AWNFDR</div>
<div class="t f2" style="left:277.85px;top:478.23px;letter-spacing:0.328px">6.90</div>
<div class="t f2" style="left:355.85px;top:478.23px;letter-spacing:0.328px">6.90</div>
<div class="t f2" style="left:433.85px;top:478.23px;letter-spacing:0.397px">7.23</div>
<div class="t f2" style="left:504.03px;top:478.23px;letter-spacing:-0.167px"><span class="h">-</span>4.6%</div>
<div class="t f4" style="left:177.93px;top:514.06px;transform:scaleX(0.8577)">CBSL HOLDINGS IN GOVT SECURITIES (LKR BN)</div>
<div class="t f5" style="left:319.77px;top:547.08px;transform:scaleX(0.9367)">Current</div>
<div class="t f5" style="left:369.74px;top:547.08px;transform:scaleX(0.9375)">Previous</div>
<div class="t f5" style="left:424.35px;top:547.08px;transform:scaleX(0.9360)">Year open</div>
<div class="t f5" style="left:495.66px;top:547.08px;transform:scaleX(0.8433)">YTD %</div>
<div class="t f6" style="left:91.14px;top:578.83px;transform:scaleX(0.8582)">Market liquidity - Surplus/ (Deficit) (LKR bn)</div>
<div class="t f6" style="left:91.42px;top:609.53px;transform:scaleX(0.8090)">CBSL holdings in govt securities (LKR bn)</div>
<div class="t f7" style="left:331.29px;top:577.98px;transform:scaleX(0.9376)"><span class="o">1</span>36.64</div>
<div class="t f7" style="left:388.69px;top:577.98px;transform:scaleX(0.9002)"><span class="o">1</span>35.4<span class="o">1</span></div>
<div class="t f7" style="left:448.60px;top:577.98px;transform:scaleX(0.9091)"><span class="o">1</span>68.<span class="o">1</span><span class="o">1</span></div>
<div class="t f7" style="left:493.48px;top:577.98px;transform:scaleX(0.9181)"><span class="h">-</span><span class="o">1</span>8.7%</div>
<div class="t f7" style="left:318.77px;top:608.68px;transform:scaleX(0.9716)">2,508.92</div>
<div class="t f7" style="left:373.86px;top:608.68px;transform:scaleX(0.9673)">2,508.92</div>
<div class="t f7" style="left:432.27px;top:608.68px;transform:scaleX(0.9585)">2,5<span class="o">1</span>5.62</div>
<div class="t f7" style="left:495.43px;top:608.68px;transform:scaleX(0.9147)"><span class="h">-</span>0.3%</div>
<div class="t f0" style="left:833.83px;top:121.57px;letter-spacing:-0.159px">FOREX MARKET</div>
<div class="t f3" style="left:727.90px;top:170.24px;letter-spacing:1.103px">Buying</div>
<div class="t f3" style="left:816.15px;top:170.24px;letter-spacing:0.740px">Selling</div>
<div class="t f3" style="left:895.25px;top:170.24px;letter-spacing:0.634px">Year open</div>
<div class="t f3" style="left:986.70px;top:157.54px;letter-spacing:1.172px">Bid-Ask</div>
<div class="t f3" style="left:991.10px;top:182.24px;letter-spacing:0.960px">Spread</div>
<div class="t f3" style="left:1082.90px;top:170.24px;letter-spacing:-0.083px">YTD %</div>
<div class="t f3" style="left:661.98px;top:217.34px;transform:scaleX(0.9399)">USD</div>
<div class="t f8" style="left:729.50px;top:217.00px;letter-spacing:0.834px">298.76</div>
<div class="t f8" style="left:817.59px;top:217.00px;letter-spacing:0.628px">306.28</div>
<div class="t f8" style="left:904.84px;top:217.00px;letter-spacing:0.678px">297.07</div>
<div class="t f8" style="left:995.66px;top:217.00px;letter-spacing:0.143px"><span class="h">-</span>2.5%</div>
<div class="t f8" style="left:1088.20px;top:217.00px;letter-spacing:-0.305px">3.<span class="o">1</span>%</div>
<div class="t f3" style="left:662.27px;top:248.37px;transform:scaleX(0.9391)">GBP</div>
<div class="t f8" style="left:730.29px;top:248.03px;letter-spacing:0.588px">402.46</div>
<div class="t f8" style="left:822.43px;top:248.03px;letter-spacing:0.174px">4<span class="o">1</span>5.<span class="o">1</span><span class="o">1</span></div>
<div class="t f8" style="left:908.09px;top:248.03px;letter-spacing:0.337px">375.<span class="o">1</span><span class="o">1</span></div>
<div class="t f8" style="left:995.66px;top:248.03px;letter-spacing:0.143px"><span class="h">-</span>3.0%</div>
<div class="t f8" style="left:1085.19px;top:248.03px;letter-spacing:-0.247px"><span class="o">1</span>0.7%</div>
<div class="t f3" style="left:662.24px;top:279.40px;transform:scaleX(0.8692)">EUR</div>
<div class="t f8" style="left:733.19px;top:279.06px;letter-spacing:0.381px">35<span class="o">1</span>.<span class="o">1</span>5</div>
<div class="t f8" style="left:817.59px;top:279.06px;letter-spacing:0.628px">362.75</div>
<div class="t f8" style="left:908.09px;top:279.06px;letter-spacing:0.565px">3<span class="o">1</span><span class="o">1</span>.36</div>
<div class="t f8" style="left:995.66px;top:279.06px;letter-spacing:0.143px"><span class="h">-</span>3.2%</div>
<div class="t f8" style="left:1085.19px;top:279.06px;letter-spacing:-0.247px"><span class="o">1</span>6.5%</div>
<div class="t f3" style="left:662.80px;top:310.43px;transform:scaleX(0.9172)">JPY</div>
<div class="t f8" style="left:739.10px;top:310.09px;letter-spacing:0.034px">2.0<span class="o">1</span></div>
<div class="t f8" style="left:825.05px;top:310.09px;letter-spacing:0.620px">2.08</div>
<div class="t f8" style="left:914.94px;top:310.09px;letter-spacing:0.118px"><span class="o">1</span>.89</div>
<div class="t f8" style="left:995.66px;top:310.09px;letter-spacing:0.143px"><span class="h">-</span>3.4%</div>
<div class="t f8" style="left:1086.68px;top:310.09px;letter-spacing:-0.372px"><span class="o">1</span>0.<span class="o">1</span>%</div>
<div class="t f0" style="left:815.94px;top:341.77px;letter-spacing:0.104px">COMMODITY PRICES</div>
<div class="t f9" style="left:803.10px;top:378.08px;letter-spacing:0.729px">Current</div>
<div class="t f9" style="left:875.80px;top:378.08px;letter-spacing:0.500px">Previous</div>
<div class="t f9" style="left:942.75px;top:378.08px;letter-spacing:0.636px">Year open</div>
<div class="t f9" style="left:1018.70px;top:378.08px;letter-spacing:0.065px">Day's %</div>
<div class="t f9" style="left:1091.40px;top:378.08px;letter-spacing:-0.281px">YTD %</div>
<div class="t f9" style="left:658.05px;top:410.18px;letter-spacing:0.536px">Gold (USD/Ounce)</div>
<div class="t f2" style="left:812.29px;top:405.13px;letter-spacing:0.194px">3,774.90</div>
<div class="t f2" style="left:882.03px;top:405.13px;letter-spacing:0.230px">3,788.50</div>
<div class="t f2" style="left:951.83px;top:405.13px;letter-spacing:0.260px">2,620.50</div>
<div class="t f2" style="left:1037.43px;top:405.13px;letter-spacing:-0.167px"><span class="h">-</span>0.4%</div>
<div class="t f2" style="left:1108.84px;top:405.13px;letter-spacing:-0.383px">44.<span class="o">1</span>%</div>
<div class="t f9" style="left:650.85px;top:442.18px;letter-spacing:0.486px">Copper (USD/Pound)</div>
<div class="t f2" style="left:838.77px;top:437.13px;letter-spacing:0.259px">4.82</div>
<div class="t f2" style="left:908.77px;top:437.13px;letter-spacing:0.190px">4.64</div>
<div class="t f2" style="left:978.77px;top:437.13px;letter-spacing:0.259px">4.09</div>
<div class="t f2" style="left:1044.19px;top:437.13px;letter-spacing:-0.396px">3.9%</div>
<div class="t f2" style="left:1108.89px;top:437.13px;letter-spacing:-0.396px"><span class="o">1</span>7.9%</div>
<div class="t f9" style="left:649.50px;top:474.38px;letter-spacing:0.657px">Aluminium (USD/MT)</div>
<div class="t f2" style="left:815.03px;top:469.33px;letter-spacing:0.180px">2,65<span class="o">1</span>.50</div>
<div class="t f2" style="left:881.83px;top:469.33px;letter-spacing:0.260px">2,638.00</div>
<div class="t f2" style="left:951.83px;top:469.33px;letter-spacing:0.260px">2,529.50</div>
<div class="t f2" style="left:1044.19px;top:469.33px;letter-spacing:-0.396px">0.5%</div>
<div class="t f2" style="left:1113.19px;top:469.33px;letter-spacing:-0.396px">4.8%</div>
<div class="t f9" style="left:645.30px;top:506.88px;letter-spacing:0.491px">Crude Oil (USD/Barrel)</div>
<div class="t f2" style="left:830.49px;top:501.83px;letter-spacing:0.377px">64.70</div>
<div class="t f2" style="left:900.49px;top:501.83px;letter-spacing:0.428px">63.57</div>
<div class="t f2" style="left:973.69px;top:501.83px;letter-spacing:0.288px">7<span class="o">1</span>.33</div>
<div class="t f2" style="left:1046.83px;top:501.83px;letter-spacing:-0.396px"><span class="o">1</span>.8%</div>
<div class="t f2" style="left:1106.43px;top:501.83px;letter-spacing:-0.167px"><span class="h">-</span>9.3%</div>
<div class="t f9" style="left:652.80px;top:539.08px;letter-spacing:0.448px">Cotton (USD/Pound)</div>
<div class="t f2" style="left:833.69px;top:534.03px;letter-spacing:0.237px">66.<span class="o">1</span>4</div>
<div class="t f2" style="left:900.49px;top:534.03px;letter-spacing:0.428px">66.62</div>
<div class="t f2" style="left:970.49px;top:534.03px;letter-spacing:0.428px">68.48</div>
<div class="t f2" style="left:1037.43px;top:534.03px;letter-spacing:-0.167px"><span class="h">-</span>0.7%</div>
<div class="t f2" style="left:1106.43px;top:534.03px;letter-spacing:-0.167px"><span class="h">-</span>3.4%</div>
<div class="t f9" style="left:655.00px;top:571.28px;letter-spacing:0.490px">Sugar (USD/Pound)</div>
<div class="t f2" style="left:838.00px;top:566.23px;letter-spacing:-0.130px"><span class="o">1</span>6.<span class="o">1</span>2</div>
<div class="t f2" style="left:908.00px;top:566.23px;letter-spacing:-0.130px"><span class="o">1</span>6.<span class="o">1</span>6</div>
<div class="t f2" style="left:978.00px;top:566.23px;letter-spacing:-0.130px"><span class="o">1</span>9.<span class="o">1</span>2</div>
<div class="t f2" style="left:1037.43px;top:566.23px;letter-spacing:-0.167px"><span class="h">-</span>0.2%</div>
<div class="t f2" style="left:1101.77px;top:566.23px;letter-spacing:-0.141px"><span class="h">-</span><span class="o">1</span>5.7%</div>
<div class="t f9" style="left:656.95px;top:604.08px;letter-spacing:0.580px">Palm Oil (USD/MT)</div>
<div class="t f2" style="left:816.14px;top:599.03px;letter-spacing:0.050px"><span class="o">1</span>,029.88</div>
<div class="t f2" style="left:886.14px;top:599.03px;letter-spacing:0.050px"><span class="o">1</span>,068.95</div>
<div class="t f2" style="left:959.34px;top:599.03px;letter-spacing:-0.059px"><span class="o">1</span>,0<span class="o">1</span>4.04</div>
<div class="t f2" style="left:1037.43px;top:599.03px;letter-spacing:-0.167px"><span class="h">-</span>3.7%</div>
<div class="t f2" style="left:1115.83px;top:599.03px;letter-spacing:-0.396px"><span class="o">1</span>.6%</div>
<div class="t f10" style="left:92.18px;top:32.78px;transform:scaleX(0.9442);letter-spacing:-1.688px">BRS</div>
<div class="t f10" style="left:182.81px;top:32.78px;letter-spacing:1.296px">MORNING</div>
<div class="t f10" style="left:402.31px;top:32.78px;letter-spacing:-0.981px">MARKET</div>
<div class="t f10" style="left:589.17px;top:32.78px;transform:scaleX(0.9488);letter-spacing:-1.688px">BRIEF</div>
<div class="t f11" style="left:92.36px;top:82.43px;letter-spacing:-0.087px">25. 09. 2025</div>
<div class="t f12" style="left:269.55px;top:676.96px;letter-spacing:0.040px">www.bartleetreligare.com</div>
<div class="t f13" style="left:1160.52px;top:668.54px;letter-spacing:0.837px">Help Desk</div>
<div class="t f12" style="left:1160.80px;top:683.06px;letter-spacing:-0.302px">+94 114 221 000</div>
<div class="t f14" style="left:124.11px;top:662.59px;transform:scaleX(1.0900);letter-spacing:0.872px">Bartleet</div>
</body></html>
